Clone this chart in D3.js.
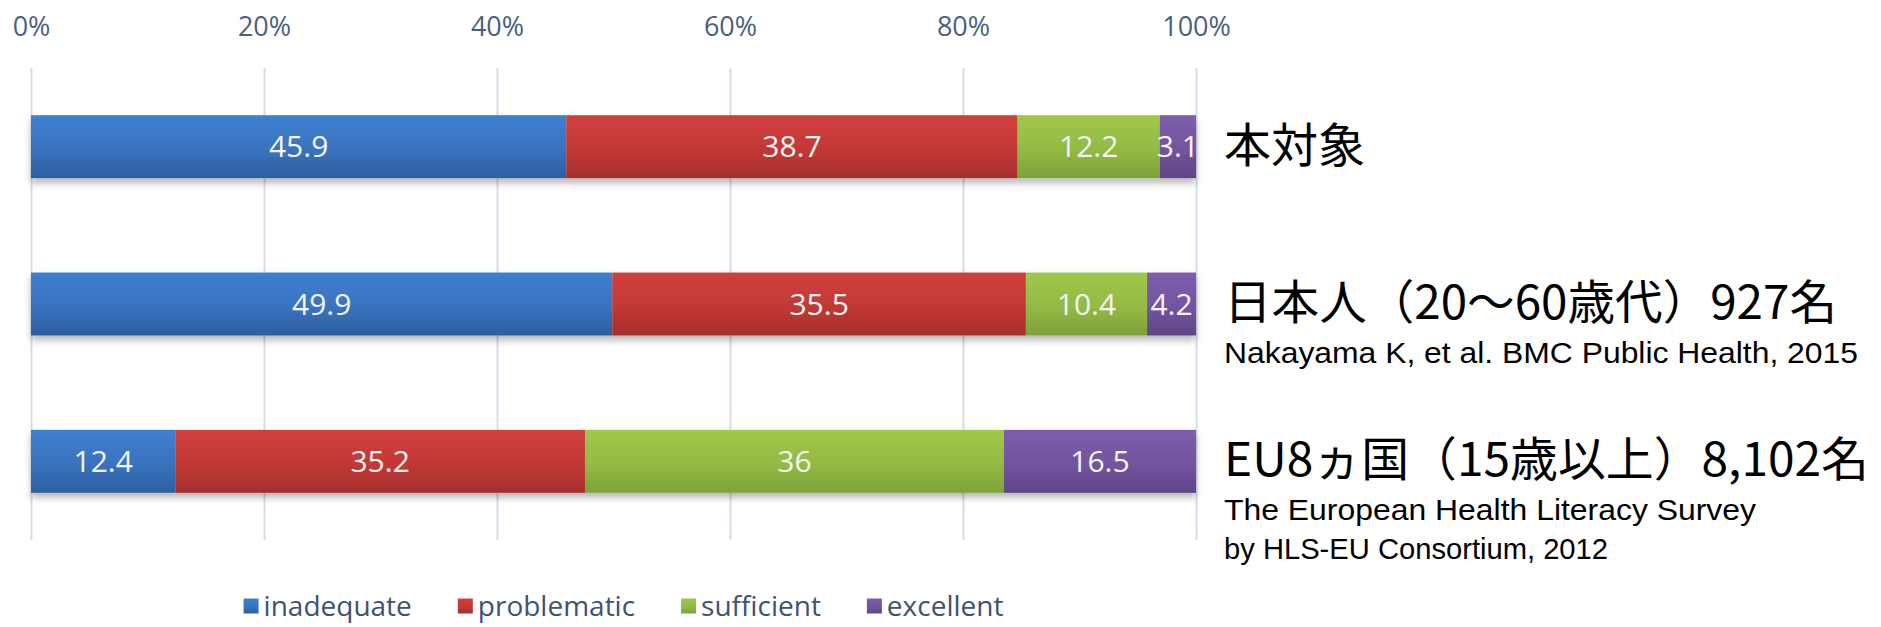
<!DOCTYPE html>
<html lang="ja">
<head>
<meta charset="utf-8">
<title>ヘルスリテラシー比較</title>
<script src="https://cdn.jsdelivr.net/npm/d3@7"></script>
<style>
  html, body { margin: 0; padding: 0; background: #ffffff; }
  svg { display: block; }
</style>
</head>
<body>
<svg id="chart" width="1881" height="627"></svg>
<script>
// Health literacy level shares (%) for three surveyed groups
const groups = ["本対象", "日本人（20～60歳代）927名", "EU8ヵ国（15歳以上）8,102名"];
const levels = ["inadequate", "problematic", "sufficient", "excellent"];
const inadequate  = [45.9, 49.9, 12.4];
const problematic = [38.7, 35.5, 35.2];
const sufficient  = [12.2, 10.4, 36];
const excellent   = [3.1, 4.2, 16.5];
const tickValues  = [0, 0.2, 0.4, 0.6, 0.8, 1];
const sources = [
  [],
  ["Nakayama K, et al. BMC Public Health, 2015"],
  ["The European Health Literacy Survey", "by HLS-EU Consortium, 2012"]
];

const colors = {
  inadequate:  ["#3f7fcf", "#2d5e9f"],
  problematic: ["#d03f3c", "#a52e2c"],
  sufficient:  ["#9fc84a", "#7ea13a"],
  excellent:   ["#7e5dab", "#5e4486"]
};

const rows = groups.map((g, i) => ({
  group: g,
  inadequate: inadequate[i],
  problematic: problematic[i],
  sufficient: sufficient[i],
  excellent: excellent[i]
}));

const svg = d3.select("#chart");
const plot = { left: 31, right: 1196, top: 68, bottom: 540 };

const x = d3.scaleLinear().domain([0, 1]).range([plot.left, plot.right]);
const y = d3.scaleBand().domain(groups).range([plot.top, plot.bottom])
  .paddingInner(0.6).paddingOuter(0.3);

// 100% stacked layout
const series = d3.stack().keys(levels).offset(d3.stackOffsetExpand)(rows);

// Gradients and shadow
const defs = svg.append("defs");
levels.forEach(k => {
  const g = defs.append("linearGradient").attr("id", "grad-" + k)
    .attr("x1", 0).attr("y1", 0).attr("x2", 0).attr("y2", 1);
  g.append("stop").attr("offset", "0%").attr("stop-color", colors[k][0]);
  g.append("stop").attr("offset", "55%").attr("stop-color", d3.interpolateRgb(colors[k][0], colors[k][1])(0.35));
  g.append("stop").attr("offset", "100%").attr("stop-color", colors[k][1]);
});
const shadow = defs.append("filter").attr("id", "barShadow")
  .attr("x", "-5%").attr("y", "-20%").attr("width", "110%").attr("height", "160%");
shadow.append("feDropShadow").attr("dx", 0).attr("dy", 5).attr("stdDeviation", 3.5)
  .attr("flood-color", "#000").attr("flood-opacity", 0.28);

// Vertical gridlines
const grid = svg.append("g").attr("transform", `translate(0,${plot.top})`)
  .call(d3.axisBottom(x).tickValues(tickValues).tickSize(plot.bottom - plot.top).tickFormat(""));
grid.select(".domain").remove();
grid.selectAll(".tick line").attr("stroke", "#d3deec").attr("stroke-width", 2);

// Percent tick labels along the top
const axis = svg.append("g").attr("transform", "translate(0,36)")
  .call(d3.axisTop(x).tickValues(tickValues).tickSize(0).tickPadding(0).tickFormat(d3.format(".0%")));
axis.select(".domain").remove();
axis.selectAll(".tick text")
  .attr("fill", "#4a5f80")
  .attr("font-family", "'Open Sans', sans-serif")
  .attr("font-size", 27);

// Bars
const barLayer = svg.append("g").attr("filter", "url(#barShadow)");
series.forEach(s => {
  barLayer.append("g").selectAll("rect").data(s).join("rect")
    .attr("x", d => x(d[0]))
    .attr("y", d => y(d.data.group))
    .attr("width", d => x(d[1]) - x(d[0]))
    .attr("height", y.bandwidth())
    .attr("fill", `url(#grad-${s.key})`);
});

// Value labels, centred in each segment
const labelLayer = svg.append("g");
series.forEach(s => {
  labelLayer.append("g").selectAll("text").data(s).join("text")
    .attr("x", d => (x(d[0]) + x(d[1])) / 2)
    .attr("y", d => y(d.data.group) + y.bandwidth() / 2)
    .attr("dy", "0.36em")
    .attr("text-anchor", "middle")
    .attr("fill", "#f4f4f4")
    .attr("font-family", "'Open Sans', sans-serif")
    .attr("font-size", 30)
    .text(d => d.data[s.key]);
});

// Group titles and sources to the right
const titleX = 1224;
const titleWidths = [null, 613, 645];
const sourceWidths = [[], [634], [532, 384]];
const right = svg.append("g");
groups.forEach((g, i) => {
  const cy = y(g) + y.bandwidth() / 2;
  const t = right.append("text")
    .attr("x", titleX)
    .attr("y", cy - 2)
    .attr("dy", "0.36em")
    .attr("fill", "#000")
    .attr("font-family", "'Noto Sans CJK JP', sans-serif")
    .attr("font-size", 47)
    .text(g);
  if (titleWidths[i]) t.attr("textLength", titleWidths[i]).attr("lengthAdjust", "spacingAndGlyphs");
  sources[i].forEach((line, j) => {
    right.append("text")
      .attr("x", titleX)
      .attr("y", cy + 59 + j * 39)
      .attr("fill", "#000")
      .attr("font-family", "'Liberation Sans', Arial, sans-serif")
      .attr("font-size", 30)
      .attr("textLength", sourceWidths[i][j])
      .attr("lengthAdjust", "spacingAndGlyphs")
      .text(line);
  });
});

// Legend
const legend = svg.append("g");
const legendY = 606;
const sw = 15, gapText = 5, gapItem = 46;
const items = legend.selectAll("g").data(levels).join("g");
items.append("rect")
  .attr("width", sw).attr("height", sw)
  .attr("y", legendY - sw / 2)
  .attr("fill", d => `url(#grad-${d})`);
items.append("text")
  .attr("x", sw + gapText)
  .attr("y", legendY)
  .attr("dy", "0.34em")
  .attr("fill", "#3e5272")
  .attr("font-family", "'Open Sans', sans-serif")
  .attr("font-size", 28)
  .text(d => d);
let cursor = 0;
const offsets = [];
items.each(function () {
  offsets.push(cursor);
  const w = d3.select(this).select("text").node().getComputedTextLength();
  cursor += sw + gapText + w + gapItem;
});
const totalW = cursor - gapItem;
const startX = (plot.left + plot.right) / 2 - totalW / 2 + 10;
items.attr("transform", (d, i) => `translate(${startX + offsets[i]},0)`);
</script>
</body>
</html>
